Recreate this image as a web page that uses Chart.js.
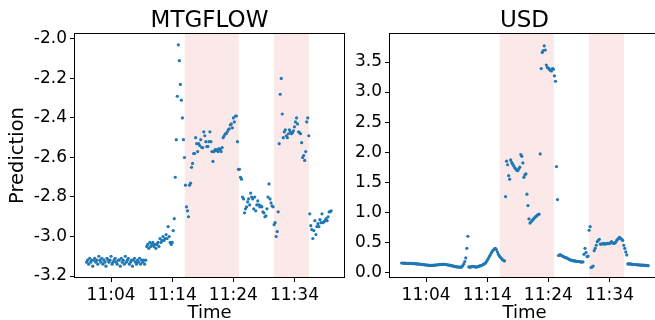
<!DOCTYPE html>
<html>
<head>
<meta charset="utf-8">
<script src="https://cdn.jsdelivr.net/npm/chart.js@4.4.1/dist/chart.umd.min.js"></script>
<style>
  html, body { margin: 0; padding: 0; background: #fff; overflow: hidden; width: 655px; height: 320px; }
  canvas { position: absolute; top: 0; }
  #left { left: 0; }
  #right { left: 315px; }
</style>
</head>
<body>
<canvas id="left" width="350" height="320"></canvas>
<canvas id="right" width="350" height="320"></canvas>
<script>
// samples every 10 s starting at 11:00:00
const stepSeconds = 10;

const tickMinutes = [4, 14, 24, 34];
const tickLabels = ["11:04", "11:14", "11:24", "11:34"];

// anomaly windows, minutes after 11:00
const anomalyWindows = [[16.05, 24.9], [30.65, 36.35]];

const mtgflowTicks = [-3.2, -3.0, -2.8, -2.6, -2.4, -2.2, -2.0];
const usdTicks = [0.0, 0.5, 1.0, 1.5, 2.0, 2.5, 3.0, 3.5];

const mtgflowValues = [
  -3.13, -3.12, -3.14, -3.11, -3.13, -3.12, -3.15, -3.12, -3.11, -3.13,
  -3.12, -3.14, -3.10, -3.12, -3.13, -3.11, -3.14, -3.12, -3.13, -3.15,
  -3.11, -3.12, -3.13, -3.12, -3.10, -3.14, -3.13, -3.12, -3.11, -3.13,
  -3.14, -3.12, -3.12, -3.15, -3.11, -3.13, -3.12, -3.14, -3.10, -3.13,
  -3.12, -3.11, -3.14, -3.13, -3.12, -3.15, -3.12, -3.11, -3.13, -3.14,
  -3.12, -3.13, -3.11, -3.14, -3.12, -3.13, -3.12, -3.14, -3.12,
  -3.05, -3.04, -3.06, -3.03, -3.05, -3.04, -3.03, -3.05, -3.04, -3.06,
  -3.04, -3.03, -3.05, -3.01, -3.03, -3.02, -3.00, -3.02, -3.01, -2.99,
  -3.01, -2.95, -3.00, -3.03, -3.04, -3.03, -2.97,
  -2.91, -2.70, -2.51, -2.29, -2.03, -2.11, -2.23, -2.31, -2.40, -2.51,
  -2.60, -2.74, -2.85, -2.87, -2.90,
  -2.74, -2.73, -2.65, -2.63, -2.58, -2.58, -2.50, -2.53, -2.57, -2.53,
  -2.54, -2.51, -2.55, -2.55, -2.47, -2.49, -2.52, -2.545, -2.545, -2.52,
  -2.47, -2.52, -2.57, -2.62, -2.57, -2.56, -2.565, -2.56, -2.57, -2.555,
  -2.56, -2.57, -2.55, -2.50, -2.49, -2.48, -2.48, -2.47, -2.46, -2.455,
  -2.435, -2.43, -2.45, -2.40, -2.42, -2.39, -2.39, -2.52,
  -2.66, -2.66, -2.70, -2.71, -2.80, -2.81, -2.88, -2.86, -2.85, -2.825,
  -2.81, -2.84, -2.78, -2.80, -2.81, -2.86, -2.80, -2.87, -2.84, -2.82,
  -2.84, -2.85, -2.845, -2.85, -2.875, -2.88, -2.90, -2.895, -2.86, -2.80,
  -2.734, -2.81, -2.83, -2.845, -2.85, -2.94, -2.93, -3.00, -2.975, -2.875,
  -2.53, -2.28, -2.20, -2.38, -2.50, -2.47, -2.46,
  -2.49, -2.50, -2.48, -2.46, -2.47, -2.48, -2.475, -2.465, -2.445, -2.42,
  -2.40, -2.43, -2.47, -2.475, -2.48, -2.525, -2.60, -2.59, -2.615, -2.57,
  -2.42, -2.40, -2.49, -2.885, -2.945, -2.965, -3.01, -2.97, -2.92, -2.99,
  -2.95, -2.935, -2.95, -2.915, -2.93, -2.885, -2.93, -2.925, -2.92, -2.91,
  -2.92, -2.90, -2.875, -2.875, -2.87
];

const usdValues = [
  0.155, 0.155, 0.15, 0.155, 0.15, 0.15, 0.15, 0.148, 0.15, 0.148, 0.146, 0.145,
  0.145, 0.144, 0.142, 0.14, 0.14, 0.138, 0.135, 0.133, 0.13, 0.128, 0.127, 0.125,
  0.122, 0.12, 0.118, 0.116, 0.115, 0.114, 0.115, 0.116, 0.118, 0.12, 0.122, 0.124,
  0.126, 0.128, 0.13, 0.132, 0.133, 0.133, 0.132, 0.13, 0.128, 0.125, 0.122, 0.118,
  0.114, 0.11, 0.106, 0.102, 0.098, 0.095, 0.092, 0.09, 0.088, 0.087, 0.086, 0.09,
  0.11, 0.14, 0.18, 0.24, 0.40, 0.60,
  0.09, 0.085, 0.09, 0.095, 0.10, 0.095, 0.09, 0.088, 0.09, 0.095, 0.10, 0.11,
  0.11, 0.12, 0.13, 0.14, 0.15, 0.17,
  0.20, 0.23, 0.26, 0.29, 0.32, 0.35, 0.37, 0.39, 0.40,
  0.38, 0.34, 0.30, 0.27, 0.25, 0.23, 0.21, 0.20, 0.19,
  1.26, 1.85, 1.79, 1.61, 1.55, 1.87, 1.83, 1.80, 1.77, 1.74,
  1.72, 1.70, 1.69, 1.72, 1.75, 1.96, 1.93, 1.82, 1.58, 1.62,
  1.64, 1.30, 1.11, 0.89, 0.82, 0.84, 0.86, 0.88, 0.90, 0.92,
  0.93, 0.95, 0.96, 0.97,
  1.97, 3.39, 3.66, 3.69, 3.77, 3.70, 3.45, 3.41, 3.40, 3.38,
  3.36, 3.35, 3.39, 3.38, 3.27, 3.18, 1.76, 1.21, 0.28, 0.29,
  0.29, 0.28, 0.27, 0.26, 0.25, 0.245, 0.24, 0.23, 0.22, 0.21, 0.205, 0.20,
  0.195, 0.19, 0.19, 0.185, 0.18, 0.18, 0.18, 0.175, 0.175, 0.17, 0.175,
  0.30, 0.40, 0.33, 0.26, 0.27, 0.70, 0.76, 0.08, 0.09, 0.105,
  0.36, 0.40, 0.45, 0.51, 0.53, 0.55, 0.47,
  0.47, 0.475, 0.47, 0.48, 0.47, 0.475, 0.48, 0.475, 0.48, 0.49, 0.51, 0.49, 0.48, 0.485,
  0.50, 0.53, 0.55, 0.57, 0.58, 0.56, 0.55, 0.53, 0.45, 0.40, 0.34, 0.29,
  0.14, 0.14, 0.14, 0.135, 0.135, 0.13, 0.13, 0.13, 0.13, 0.125, 0.125, 0.125,
  0.12, 0.12, 0.12, 0.12, 0.115, 0.115, 0.115, 0.11, 0.11
];

const FONT = '"DejaVu Sans", sans-serif';
Chart.defaults.color = "#000";
Chart.defaults.font.family = FONT;

// shading behind the points, frame and title on top
const panelDecor = {
  id: "panelDecor",
  beforeDatasetsDraw(chart) {
    const { ctx, chartArea: a, scales: { x } } = chart;
    ctx.save();
    ctx.fillStyle = "rgba(214, 39, 40, 0.1)";
    anomalyWindows.forEach(([s, e]) => {
      const x0 = x.getPixelForValue(s);
      const x1 = x.getPixelForValue(e);
      ctx.fillRect(x0, a.top, x1 - x0, a.bottom - a.top);
    });
    ctx.restore();
  },
  afterDraw(chart, args, opts) {
    const { ctx, chartArea: a } = chart;
    ctx.save();
    ctx.strokeStyle = "#000";
    ctx.lineWidth = 1;
    ctx.strokeRect(Math.round(a.left) - 0.5, Math.round(a.top) - 0.5,
      Math.round(a.right - a.left) + 1, Math.round(a.bottom - a.top) + 1);
    ctx.fillStyle = "#000";
    ctx.font = "23px " + FONT;
    ctx.textAlign = "center";
    ctx.textBaseline = "alphabetic";
    ctx.fillText(opts.title, (a.left + a.right) / 2, 27);
    ctx.restore();
  }
};

function makePanel(id, title, values, yMin, yMax, yTicks, yTitle) {
  const points = values.map((v, i) => ({ x: i * stepSeconds / 60, y: v }));
  return new Chart(document.getElementById(id), {
    type: "scatter",
    data: {
      datasets: [{
        data: points,
        pointRadius: 1.6,
        pointHoverRadius: 1.6,
        pointBorderWidth: 0,
        pointBackgroundColor: "#1f77b4",
        showLine: false
      }]
    },
    options: {
      responsive: false,
      animation: false,
      layout: { padding: { top: 34, right: 6, bottom: 0, left: 0 } },
      plugins: {
        legend: { display: false },
        tooltip: { enabled: false },
        panelDecor: { title: title }
      },
      scales: {
        x: {
          type: "linear",
          min: -1.9,
          max: 42.1,
          afterBuildTicks: (s) => { s.ticks = tickMinutes.map((v) => ({ value: v })); },
          afterFit: (s) => { s.height = 43; },
          ticks: {
            font: { size: 17 },
            padding: 3,
            maxRotation: 0,
            callback: (v) => tickLabels[tickMinutes.indexOf(v)]
          },
          grid: { display: true, drawOnChartArea: false, drawTicks: true, tickLength: 5, color: "#000" },
          border: { display: false },
          title: { display: true, text: "Time", font: { size: 18 }, padding: { top: 0, bottom: -4 } }
        },
        y: {
          min: yMin,
          max: yMax,
          afterBuildTicks: (s) => { s.ticks = yTicks.map((v) => ({ value: v })); },
          afterFit: (s) => { s.width = 75; },
          ticks: {
            font: { size: 17 },
            padding: 3,
            callback: (v) => v.toFixed(1)
          },
          grid: { display: true, drawOnChartArea: false, drawTicks: true, tickLength: 5, color: "#000" },
          border: { display: false },
          title: { display: !!yTitle, text: yTitle || "", font: { size: 19.5 }, padding: { top: 6, bottom: 0 } }
        }
      }
    },
    plugins: [panelDecor]
  });
}

makePanel("left", "MTGFLOW", mtgflowValues, -3.205, -1.975, mtgflowTicks, "Prediction");
makePanel("right", "USD", usdValues, -0.078, 3.966, usdTicks, null);
</script>
</body>
</html>
